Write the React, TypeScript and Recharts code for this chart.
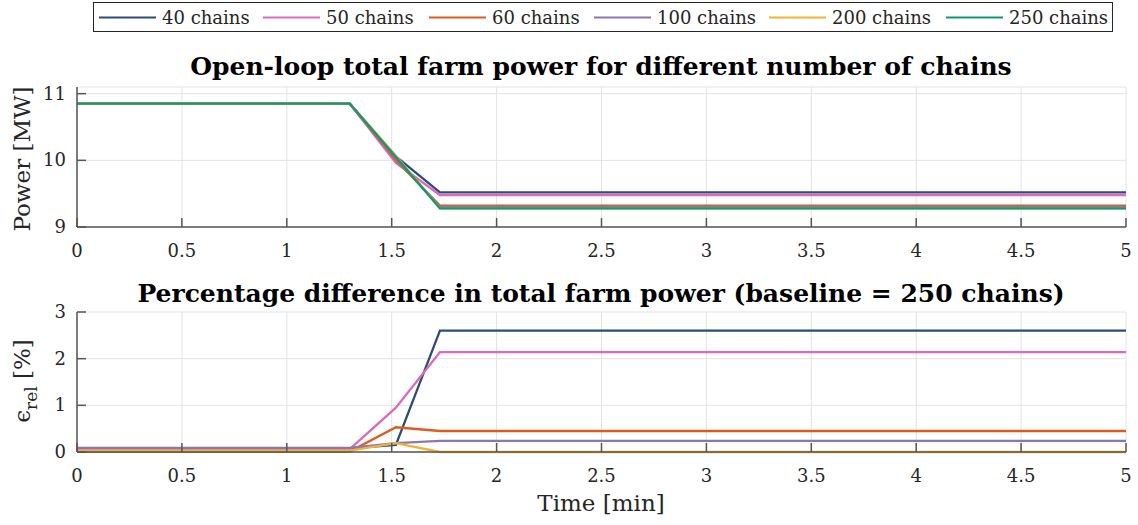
import React from 'react';
import { LineChart, Line, XAxis, YAxis, CartesianGrid } from 'recharts';

// time samples [min]
const times = [0, 1.3, 1.52, 1.73, 5];

const chainLabels = ['40 chains', '50 chains', '60 chains', '100 chains', '200 chains', '250 chains'];
const chainKeys = ['c40', 'c50', 'c60', 'c100', 'c200', 'c250'];
const chainColors = ['#2a4e7c', '#e068b8', '#e05a1e', '#8c77b5', '#f1b42f', '#0e9a73'];

// total farm power [MW]
const power40 = [10.85, 10.85, 10.06, 9.52, 9.52];
const power50 = [10.85, 10.85, 9.96, 9.48, 9.48];
const power60 = [10.85, 10.85, 10.0, 9.32, 9.32];
const power100 = [10.85, 10.85, 10.03, 9.3, 9.3];
const power200 = [10.85, 10.85, 10.07, 9.28, 9.28];
const power250 = [10.85, 10.85, 10.05, 9.28, 9.28];

// relative difference to 250 chains [%]
const diff40 = [0.08, 0.08, 0.15, 2.6, 2.6];
const diff50 = [0.06, 0.06, 0.95, 2.14, 2.14];
const diff60 = [0.01, 0.01, 0.53, 0.45, 0.45];
const diff100 = [0.09, 0.09, 0.19, 0.24, 0.24];
const diff200 = [0.03, 0.03, 0.19, 0, 0];

const timeTicks = [0, 0.5, 1, 1.5, 2, 2.5, 3, 3.5, 4, 4.5, 5];
const powerTicks = [9, 10, 11];
const diffTicks = [0, 1, 2, 3];

const powerSeries = [power40, power50, power60, power100, power200, power250];
const diffSeries = [diff40, diff50, diff60, diff100, diff200];

const powerData = times.map((t, i) => {
  const row: Record<string, number> = { t };
  powerSeries.forEach((s, k) => (row[chainKeys[k]] = s[i]));
  return row;
});
const diffData = times.map((t, i) => {
  const row: Record<string, number> = { t };
  diffSeries.forEach((s, k) => (row[chainKeys[k]] = s[i]));
  return row;
});

const FONT = '"DejaVu Serif", serif';
const TEXT = '#262626';
const AXIS = '#555';
const TICK_GAP = 11;
const TICK_LEN = 9;

const XTick = (props: any) => {
  const { x, y, payload } = props;
  const axisY = y - TICK_GAP;
  return (
    <g>
      <line x1={x} x2={x} y1={axisY} y2={axisY - TICK_LEN} stroke={AXIS} strokeWidth={1.5} />
      <text x={x} y={y + 19} textAnchor="middle" fontFamily={FONT} fontSize={18} fill={TEXT}>
        {String(payload.value)}
      </text>
    </g>
  );
};

const YTick = (props: any) => {
  const { x, y, payload } = props;
  const axisX = x + TICK_GAP;
  return (
    <g>
      <line x1={axisX} x2={axisX + TICK_LEN} y1={y} y2={y} stroke={AXIS} strokeWidth={1.5} />
      <text x={x} y={y + 6} textAnchor="end" fontFamily={FONT} fontSize={18} fill={TEXT}>
        {String(payload.value)}
      </text>
    </g>
  );
};

const legendX = [99, 263, 429, 594, 769, 946];

export default function App() {
  return (
    <div style={{ position: 'absolute', left: 0, top: 0, width: 1138, height: 525, background: '#fff' }}>
      <div style={{ position: 'absolute', left: 0, top: 0 }}>
        <LineChart width={1138} height={260} data={powerData} margin={{ top: 87, right: 12, bottom: 3, left: 17 }}>
          <CartesianGrid stroke="#e3e3e3" strokeWidth={1} />
          <XAxis
            dataKey="t"
            type="number"
            domain={[0, 5]}
            ticks={timeTicks}
            height={30}
            tickSize={0}
            tickMargin={TICK_GAP}
            tick={XTick}
            stroke={AXIS}
            strokeWidth={1.5}
            interval={0}
          />
          <YAxis
            type="number"
            domain={[9, 11.1]}
            ticks={powerTicks}
            width={60}
            tickSize={0}
            tickMargin={TICK_GAP}
            tick={YTick}
            stroke={AXIS}
            strokeWidth={1.5}
            interval={0}
            allowDataOverflow
          />
          {chainKeys.map((k, i) => (
            <Line
              key={k}
              dataKey={k}
              name={chainLabels[i]}
              stroke={chainColors[i]}
              strokeWidth={2.3}
              dot={false}
              isAnimationActive={false}
            />
          ))}
        </LineChart>
      </div>
      <div style={{ position: 'absolute', left: 0, top: 260 }}>
        <LineChart width={1138} height={265} data={diffData} margin={{ top: 52, right: 12, bottom: 43, left: 17 }}>
          <CartesianGrid stroke="#e3e3e3" strokeWidth={1} />
          <XAxis
            dataKey="t"
            type="number"
            domain={[0, 5]}
            ticks={timeTicks}
            height={30}
            tickSize={0}
            tickMargin={TICK_GAP}
            tick={XTick}
            stroke={AXIS}
            strokeWidth={1.5}
            interval={0}
          />
          <YAxis
            type="number"
            domain={[0, 3]}
            ticks={diffTicks}
            width={60}
            tickSize={0}
            tickMargin={TICK_GAP}
            tick={YTick}
            stroke={AXIS}
            strokeWidth={1.5}
            interval={0}
          />
          {diffSeries.map((_, i) => (
            <Line
              key={chainKeys[i]}
              dataKey={chainKeys[i]}
              name={chainLabels[i]}
              stroke={chainColors[i]}
              strokeWidth={2.3}
              dot={false}
              isAnimationActive={false}
            />
          ))}
        </LineChart>
      </div>
      <svg
        width={1138}
        height={525}
        style={{ position: 'absolute', left: 0, top: 0, pointerEvents: 'none' }}
        fontFamily={FONT}
        fill={TEXT}
      >
        <rect x={93.5} y={2.5} width={1019} height={29} fill="#fff" stroke={TEXT} strokeWidth={1} />
        {chainLabels.map((lab, i) => (
          <g key={lab}>
            <line x1={legendX[i]} x2={legendX[i] + 57} y1={17.5} y2={17.5} stroke={chainColors[i]} strokeWidth={2.2} />
            <text x={legendX[i] + 63} y={24} fontSize={18}>
              {lab}
            </text>
          </g>
        ))}
        <text x={601} y={75} textAnchor="middle" fontSize={25} fontWeight="bold" fill="#000">
          Open-loop total farm power for different number of chains
        </text>
        <text x={601} y={302} textAnchor="middle" fontSize={25} fontWeight="bold" fill="#000">
          Percentage difference in total farm power (baseline = 250 chains)
        </text>
        <text transform="translate(30,159) rotate(-90)" textAnchor="middle" fontSize={23}>
          Power [MW]
        </text>
        <text transform="translate(30,381) rotate(-90)" textAnchor="middle" fontSize={23}>
          ϵ
          <tspan fontSize={17} dy={7}>rel</tspan>
          <tspan dy={-7}> [%]</tspan>
        </text>
        <text x={601} y={511} textAnchor="middle" fontSize={23}>
          Time [min]
        </text>
      </svg>
    </div>
  );
}
